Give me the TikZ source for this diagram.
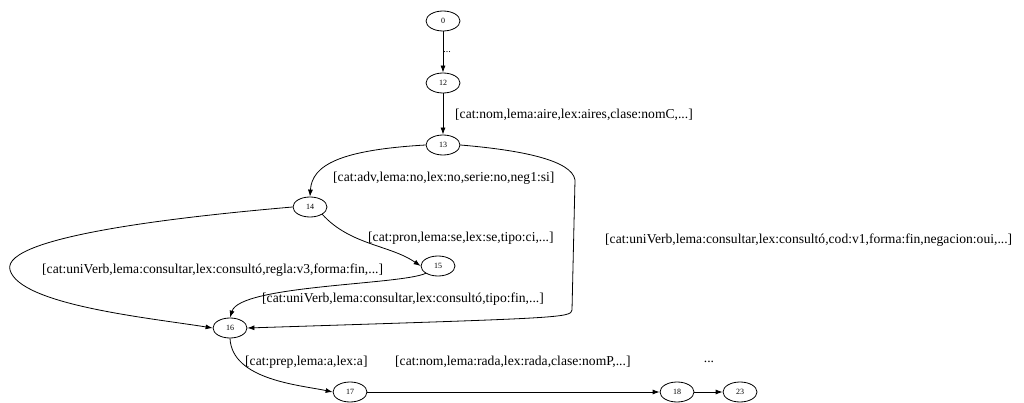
\documentclass[tikz,border=0pt]{standalone}
\usepackage{fontspec}
\setmainfont{Liberation Serif}
\usetikzlibrary{shapes.geometric,arrows.meta}
\begin{document}
\begin{tikzpicture}[x=1pt,y=-1pt,
  st/.style={draw,ellipse,minimum width=34pt,minimum height=20pt,inner sep=0pt,font=\fontsize{8}{9}\selectfont,line width=0.8pt},
  lab/.style={font=\fontsize{13.6}{15}\selectfont,inner sep=0pt,anchor=west},
  ed/.style={line width=0.8pt,-{Latex[length=7pt,width=5pt]}}]
\useasboundingbox (0,0) rectangle (1024,403);
\node[st] (n0) at (443,21) {0};
\node[st] (n12) at (443,83) {12};
\node[st] (n13) at (443,145) {13};
\node[st] (n14) at (310,207) {14};
\node[st] (n15) at (438,266) {15};
\node[st] (n16) at (230,328) {16};
\node[st] (n17) at (350,392) {17};
\node[st] (n18) at (677,392) {18};
\node[st] (n23) at (740,392) {23};

\node[font=\fontsize{10}{11}\selectfont,inner sep=0pt] (l0) at (447,52) {...};
\node[lab] (l1) at (455,115) {[cat:nom,lema:aire,lex:aires,clase:nomC,...]};
\node[lab] (l2) at (333,178) {[cat:adv,lema:no,lex:no,serie:no,neg1:si]};
\node[lab] (l3) at (368,238) {[cat:pron,lema:se,lex:se,tipo:ci,...]};
\node[lab] (l4) at (605,240) {[cat:uniVerb,lema:consultar,lex:consultó,cod:v1,forma:fin,negacion:oui,...]};
\node[lab] (l5) at (42,270) {[cat:uniVerb,lema:consultar,lex:consultó,regla:v3,forma:fin,...]};
\node[lab] (l6) at (262,299) {[cat:uniVerb,lema:consultar,lex:consultó,tipo:fin,...]};
\node[lab] (l7) at (245,362) {[cat:prep,lema:a,lex:a]};
\node[lab] (l8) at (395,362) {[cat:nom,lema:rada,lex:rada,clase:nomP,...]};
\node[lab,anchor=center] (l9) at (709,362) {...};

\draw[ed] (n0) -- (n12);
\draw[ed] (n12) -- (n13);
\draw[ed] (n13.west) .. controls (340,150) and (312,165) .. (n14.north);
\draw[ed] (n13.east) .. controls (520,150) and (572,160) .. (575,180) -- (572,310) .. controls (571,318) and (560,318) .. (n16.east);
\draw[ed] (n14.west) .. controls (200,215) and (0,235) .. (10,270) .. controls (20,305) and (150,318) .. (n16.west);
\draw[ed] (n14.south east) .. controls (350,245) and (390,245) .. (n15.west);
\draw[ed] (n15.south west) .. controls (400,285) and (240,285) .. (n16.north);
\draw[ed] (n16.south) .. controls (232,380) and (300,385) .. (n17.west);
\draw[ed] (n17) -- (n18);
\draw[ed] (n18) -- (n23);
\end{tikzpicture}
\end{document}
